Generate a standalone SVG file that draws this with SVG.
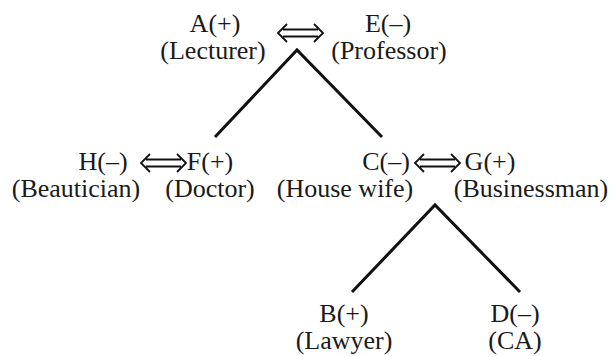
<svg xmlns="http://www.w3.org/2000/svg" width="615" height="356" viewBox="0 0 615 356">
<style>
text{font-family:"Liberation Serif","Times New Roman",serif;font-size:26px;fill:#1a1a1a;text-anchor:middle}
.ln{stroke:#111;stroke-width:3;fill:none;stroke-linecap:butt}
.da{stroke:#111;stroke-width:1.8;fill:none;stroke-linejoin:miter}
</style>
<defs>
<path id="dbl" class="da" d="M9,-9 L0,0 L9,9 M36,-9 L45,0 L36,9 M5,-3.5 L40,-3.5 M5,3.5 L40,3.5"/>
</defs>
<rect width="615" height="356" fill="#fff"/>
<g id="connectors">
<polyline class="ln" points="215,137 297,50 382,137"/>
<polyline class="ln" points="352,292 435,205 520,292"/>
<use href="#dbl" x="278" y="33"/>
<use href="#dbl" x="141" y="163"/>
<use href="#dbl" x="415" y="163"/>
</g>
<g id="nodeA"><text x="215" y="32">A(+)</text><text x="213" y="59">(Lecturer)</text></g>
<g id="nodeE"><text x="388" y="32">E(–)</text><text x="389" y="59">(Professor)</text></g>
<g id="nodeH"><text x="103" y="170">H(–)</text><text x="76" y="197">(Beautician)</text></g>
<g id="nodeF"><text x="210" y="170">F(+)</text><text x="210" y="197">(Doctor)</text></g>
<g id="nodeC"><text x="386" y="170">C(–)</text><text x="345" y="197">(House wife)</text></g>
<g id="nodeG"><text x="490" y="170">G(+)</text><text x="531" y="197">(Businessman)</text></g>
<g id="nodeB"><text x="344" y="322">B(+)</text><text x="344" y="349">(Lawyer)</text></g>
<g id="nodeD"><text x="515" y="322">D(–)</text><text x="515" y="349">(CA)</text></g>
</svg>
